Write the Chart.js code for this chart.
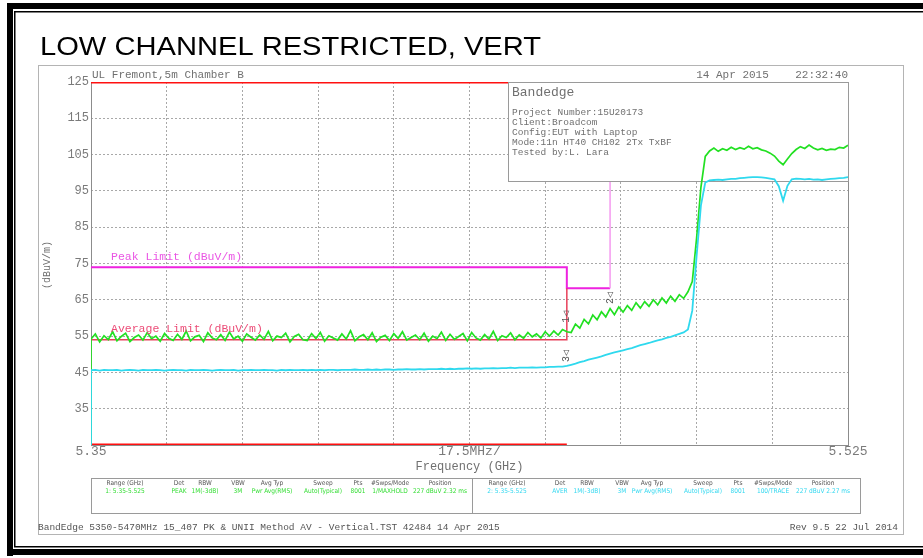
<!DOCTYPE html>
<html>
<head>
<meta charset="utf-8">
<script src="https://cdn.jsdelivr.net/npm/chart.js@4/dist/chart.umd.min.js"></script>
<style>
  body { margin: 0; background: #fff; }
  canvas { display: block; }
</style>
</head>
<body>
<canvas id="bandChart" width="923" height="558"></canvas>
<script>
// sweep: 5.350 .. 5.525 GHz, one reading per MHz
const sweepStart = 5.35;
const sweepStep = 0.001;

const freqTicks = [5.35, 5.3675, 5.385, 5.4025, 5.42, 5.4375, 5.455, 5.4725, 5.49, 5.5075, 5.525];
const levelTicks = [25, 35, 45, 55, 65, 75, 85, 95, 105, 115, 125];
const levelLabels = ['', '35', '45', '55', '65', '75', '85', '95', '105', '115', '125'];

// trace 1, peak detector (dBuV/m)
const peakTrace = [
  54.2,55.6,53.4,55.1,54.0,56.2,53.7,54.9,55.8,53.5,
  54.6,55.3,53.9,56.0,54.3,55.0,53.6,55.7,54.4,53.8,
  55.5,54.1,56.4,53.7,54.8,55.2,53.5,55.9,54.5,54.0,
  55.4,53.8,56.1,54.2,55.0,53.6,55.6,54.7,53.9,55.3,
  54.1,56.3,53.7,55.0,54.6,55.8,53.4,54.9,55.5,54.0,
  53.8,55.7,54.3,56.0,53.6,55.1,54.5,53.9,55.6,54.2,
  56.5,53.7,54.8,55.4,54.0,55.9,53.5,54.7,55.2,53.8,
  55.7,54.4,56.2,53.9,54.6,55.3,54.0,55.8,53.6,55.0,
  54.3,56.1,53.8,55.5,54.1,54.9,55.7,53.7,56.0,54.5,
  53.9,55.4,54.2,56.3,53.8,55.1,54.6,55.9,54.0,55.3,
  54.4,56.0,54.8,55.6,54.5,56.2,55.0,56.4,55.3,56.8,
  56.2,56.0,58.3,57.2,59.6,58.4,60.8,59.5,61.7,60.3,
  62.6,60.9,63.0,61.6,63.4,62.1,64.2,62.7,64.5,63.2,
  65.0,63.6,65.5,64.1,66.0,64.6,66.4,65.4,67.2,70.0,
  82.0,96.0,104.5,106.0,106.8,105.9,106.6,106.2,107.0,106.4,
  106.9,106.5,107.3,106.6,106.9,106.3,106.0,105.4,104.6,103.2,
  102.2,103.8,105.3,106.4,107.2,106.7,107.6,106.8,106.3,106.7,
  106.2,106.5,106.4,107.0,106.8,107.6
];

// trace 2, average detector (dBuV/m)
const avgTrace = [
  45.6,45.7,45.5,45.7,45.6,45.6,45.7,45.5,45.6,45.7,
  45.6,45.5,45.7,45.6,45.6,45.7,45.6,45.5,45.6,45.7,
  45.6,45.6,45.5,45.7,45.6,45.6,45.7,45.6,45.5,45.6,
  45.7,45.6,45.6,45.7,45.5,45.6,45.6,45.7,45.6,45.6,
  45.7,45.6,45.6,45.5,45.7,45.6,45.7,45.6,45.6,45.7,
  45.6,45.7,45.6,45.7,45.6,45.7,45.7,45.6,45.7,45.7,
  45.7,45.8,45.7,45.7,45.8,45.7,45.8,45.7,45.8,45.8,
  45.7,45.8,45.8,45.9,45.8,45.8,45.9,45.8,45.9,45.9,
  45.9,46.0,45.9,46.0,45.9,46.0,46.0,46.1,46.0,46.1,
  46.0,46.1,46.1,46.2,46.1,46.2,46.2,46.3,46.2,46.3,
  46.3,46.3,46.4,46.3,46.4,46.4,46.5,46.5,46.6,46.6,
  46.8,47.1,47.4,47.8,48.1,48.5,48.8,49.1,49.4,49.8,
  50.2,50.5,50.8,51.1,51.4,51.7,52.1,52.5,52.8,53.1,
  53.5,53.8,54.1,54.5,54.8,55.2,55.6,56.0,56.8,62.0,
  77.0,91.0,97.3,97.9,98.0,98.1,98.0,98.2,98.3,98.3,
  98.5,98.6,98.7,98.8,98.8,98.7,98.6,98.4,98.2,96.3,
  92.3,96.4,98.2,98.4,98.3,98.2,98.3,98.1,98.2,98.0,
  98.2,98.3,98.4,98.5,98.6,98.8
];
const traceFloor = 25;

// limit lines
const bandFreqs = [5.35, 5.46];
const bandTop = 125;
const bandBottom = 25;
const peakLimitFreqs = [5.35, 5.46, 5.46, 5.47];
const peakLimitLevels = [74, 74, 68.2, 68.2];
const avgLimitFreqs = [5.35, 5.46, 5.46];
const avgLimitLevels = [54, 54, 68.2];
const edgeFreqs = [5.47, 5.47];
const edgeLevels = [68.2, 125];

const toPoints = (xs, ys) => xs.map((x, i) => ({ x: x, y: ys[i] }));
const sweepPoints = (vals) => vals.map((v, i) => ({ x: +(sweepStart + i * sweepStep).toFixed(4), y: v }));

const peakData = [{ x: sweepStart, y: traceFloor }].concat(sweepPoints(peakTrace));
const avgData = [{ x: sweepStart, y: traceFloor }].concat(sweepPoints(avgTrace));

const mono = '"Liberation Mono", "DejaVu Sans Mono", monospace';
const ink = '#707070';

function say(ctx, str, x, y, font, color, align, base) {
    ctx.font = font;
    ctx.fillStyle = color;
    ctx.textAlign = align || 'left';
    ctx.textBaseline = base || 'middle';
    ctx.fillText(str, x, y);
}

const decor = {
    id: 'decor',
    beforeDraw(chart) {
        const ctx = chart.ctx;
        ctx.save();
        ctx.fillStyle = '#fff';
        ctx.fillRect(0, 0, chart.width, chart.height);
        // black page frame
        ctx.fillStyle = '#000';
        ctx.fillRect(7, 3, 916, 6);
        ctx.fillRect(7, 3, 6, 553);
        ctx.fillRect(7, 549, 916, 6);
        ctx.fillRect(14, 11, 909, 1.5);
        ctx.fillRect(14, 11, 1.5, 536);
        ctx.fillRect(14, 546, 909, 1.5);
        // grey plot page frame
        ctx.strokeStyle = '#b4b4b4';
        ctx.lineWidth = 1;
        ctx.strokeRect(38.5, 65.5, 865, 469);
        ctx.restore();
    },
    beforeDatasetsDraw(chart) {
        const { ctx, chartArea: a } = chart;
        ctx.save();
        ctx.strokeStyle = '#8c8c8c';
        ctx.lineWidth = 1;
        ctx.strokeRect(Math.round(a.left) + 0.5, Math.round(a.top) + 0.5, Math.round(a.right - a.left), Math.round(a.bottom - a.top));
        ctx.restore();
    },
    beforeDatasetDraw(chart, args) {
        if (args.index !== 1) return;
        const ctx = chart.ctx;
        ctx.save();
        ctx.fillStyle = '#fff';
        ctx.fillRect(508, 82, 340, 99);
        ctx.strokeStyle = '#9a9a9a';
        ctx.lineWidth = 1;
        ctx.strokeRect(508.5, 82.5, 340, 99);
        say(ctx, 'Bandedge', 512, 93, '13px ' + mono, ink);
        const lines = ['Project Number:15U20173', 'Client:Broadcom', 'Config:EUT with Laptop',
            'Mode:11n HT40 CH102 2Tx TxBF', 'Tested by:L. Lara'];
        lines.forEach((t, i) => say(ctx, t, 512, 112 + i * 10, '9.5px ' + mono, ink));
        ctx.restore();
    },
    afterDraw(chart) {
        const { ctx, scales: { x, y } } = chart;
        ctx.save();
        ctx.save();
        ctx.translate(40, 48);
        ctx.scale(1.12, 1);
        say(ctx, 'LOW CHANNEL RESTRICTED, VERT', 0, 0, '26px "Liberation Sans", Arial, sans-serif', '#000');
        ctx.restore();
        say(ctx, 'UL Fremont,5m Chamber B', 92, 75, '11px ' + mono, ink);
        say(ctx, '14 Apr 2015    22:32:40', 848, 75, '11px ' + mono, ink, 'right');

        levelTicks.forEach((v, i) => {
            if (levelLabels[i]) say(ctx, levelLabels[i], x.left - 2, y.getPixelForValue(v), '12px ' + mono, '#7a7a7a', 'right');
        });
        say(ctx, '5.35', x.getPixelForValue(5.35), 452, '13px ' + mono, '#7a7a7a', 'center');
        say(ctx, '17.5MHz/', (x.left + x.right) / 2, 452, '13px ' + mono, '#7a7a7a', 'center');
        say(ctx, '5.525', x.getPixelForValue(5.525), 452, '13px ' + mono, '#7a7a7a', 'center');
        say(ctx, 'Frequency (GHz)', (x.left + x.right) / 2, 467, '12px ' + mono, ink, 'center');

        ctx.save();
        ctx.translate(47, 265);
        ctx.rotate(-Math.PI / 2);
        say(ctx, '(dBuV/m)', 0, 0, '10px ' + mono, ink, 'center');
        ctx.restore();

        say(ctx, 'Peak Limit (dBuV/m)', 111, y.getPixelForValue(74) - 10, '11.5px ' + mono, '#ea55e4');
        say(ctx, 'Average Limit (dBuV/m)', 111, y.getPixelForValue(54) - 11, '11.5px ' + mono, '#ec4d78');

        // marker tags
        const tag = (t, f, v) => {
            ctx.save();
            ctx.translate(x.getPixelForValue(f), y.getPixelForValue(v));
            ctx.rotate(-Math.PI / 2);
            say(ctx, t, 0, 0, '10px ' + mono, '#555', 'center');
            ctx.restore();
        };
        tag('1\u25C1', 5.46, 60.3);
        tag('2\u25C1', 5.47, 65.5);
        tag('3\u25C1', 5.46, 49.5);

        // settings table
        ctx.strokeStyle = '#9a9a9a';
        ctx.lineWidth = 1;
        ctx.strokeRect(91.5, 478.5, 769, 35);
        ctx.beginPath();
        ctx.moveTo(472.5, 478.5);
        ctx.lineTo(472.5, 513.5);
        ctx.stroke();
        const head = ['Range (GHz)', 'Det', 'RBW', 'VBW', 'Avg Typ', 'Sweep', 'Pts', '#Swps/Mode', 'Position'];
        const colsA = [125, 179, 205, 238, 272, 323, 358, 390, 440];
        const colsB = [507, 560, 587, 622, 652, 703, 738, 773, 823];
        const rowA = ['1: 5.35-5.525', 'PEAK', '1M(-3dB)', '3M', 'Pwr Avg(RMS)', 'Auto(Typical)', '8001', '1/MAXHOLD', '227 dBuV 2.32 ms'];
        const rowB = ['2: 5.35-5.525', 'AVER', '1M(-3dB)', '3M', 'Pwr Avg(RMS)', 'Auto(Typical)', '8001', '100/TRACE', '227 dBuV 2.27 ms'];
        const small = '6.5px "DejaVu Sans Condensed", "Liberation Sans", sans-serif';
        head.forEach((h, i) => {
            say(ctx, h, colsA[i], 483, small, '#555', 'center');
            say(ctx, h, colsB[i], 483, small, '#555', 'center');
            say(ctx, rowA[i], colsA[i], 491, small, '#33dd33', 'center');
            say(ctx, rowB[i], colsB[i], 491, small, '#33d8f0', 'center');
        });

        say(ctx, 'BandEdge 5350-5470MHz 15_407 PK & UNII Method AV - Vertical.TST 42484 14 Apr 2015', 38, 527, '9.5px ' + mono, '#555');
        say(ctx, 'Rev 9.5 22 Jul 2014', 898, 527, '9.5px ' + mono, '#555', 'right');
        ctx.restore();
    }
};

const line = (data, color, width) => ({
    data: data, borderColor: color, borderWidth: width,
    pointRadius: 0, tension: 0, fill: false
});

new Chart(document.getElementById('bandChart').getContext('2d'), {
    type: 'line',
    data: {
        datasets: [
            line(avgData, '#2fd9ee', 1.8),
            line(peakData, '#22e022', 1.7),
            line(toPoints(edgeFreqs, edgeLevels), '#f59af0', 1.5),
            line(toPoints(avgLimitFreqs, avgLimitLevels), '#e8405a', 1.5),
            line(toPoints(peakLimitFreqs, peakLimitLevels), '#ee22e0', 2),
            line(toPoints(bandFreqs, [bandTop, bandTop]), '#ff1010', 3),
            line(toPoints(bandFreqs, [bandBottom, bandBottom]), '#ff1010', 3)
        ]
    },
    options: {
        responsive: false,
        animation: false,
        devicePixelRatio: 1,
        layout: { padding: { left: 91, top: 82, right: 75, bottom: 113 } },
        plugins: { legend: { display: false }, tooltip: { enabled: false } },
        scales: {
            x: {
                type: 'linear', min: 5.35, max: 5.525,
                afterBuildTicks: (s) => { s.ticks = freqTicks.map(v => ({ value: v })); },
                ticks: { display: false },
                grid: { color: '#a8a8a8', lineWidth: 1, drawTicks: false },
                border: { display: false, dash: [2, 2] }
            },
            y: {
                type: 'linear', min: 25, max: 125,
                afterBuildTicks: (s) => { s.ticks = levelTicks.map(v => ({ value: v })); },
                ticks: { display: false },
                grid: { color: '#a8a8a8', lineWidth: 1, drawTicks: false },
                border: { display: false, dash: [2, 2] }
            }
        }
    },
    plugins: [decor]
});
</script>
</body>
</html>
